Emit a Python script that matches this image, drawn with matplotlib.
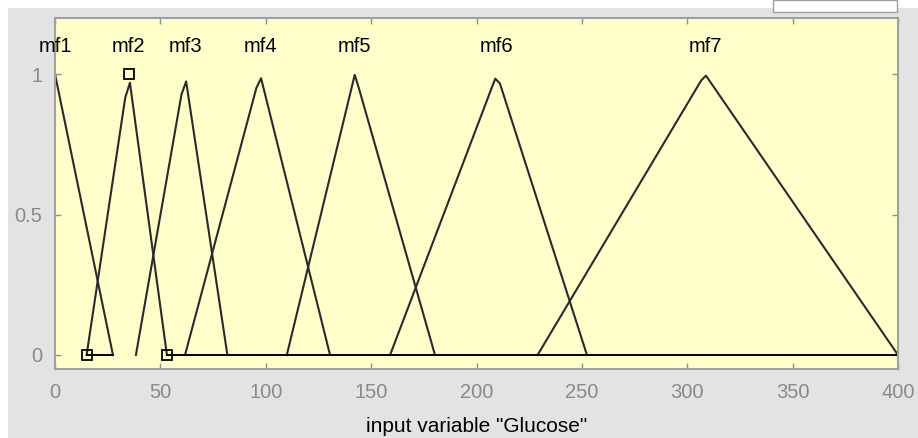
import numpy as np
import matplotlib
matplotlib.use("Agg")
import matplotlib.pyplot as plt
from matplotlib.patches import Rectangle

plt.rcParams['font.family'] = ['Liberation Sans', 'DejaVu Sans']

# membership functions (trimf params a, b, c)
mf_names = ["mf1", "mf2", "mf3", "mf4", "mf5", "mf6", "mf7"]
mf_a = [-28, 15, 38.4, 61.7, 110, 159, 229]
mf_b = [0, 35, 61.7, 97.3, 142.3, 209.7, 308.4]
mf_c = [27.5, 53.1, 81.8, 130.5, 180.3, 252.4, 400]

# baseline pieces at y = 0
base_start = [15, 53.1]
base_end = [27.5, 400]

# selected mf (mf2) handle points
sel_x = [15, 35, 53.1]
sel_y = [0, 1, 0]

xticks = [0, 50, 100, 150, 200, 250, 300, 350, 400]
yticks = [0, 0.5, 1]
ytick_labels = ["0", "0.5", "1"]

xmin, xmax = 0, 400
grid = np.linspace(xmin, xmax, 181)


def trimf(x, a, b, c):
    left = (x - a) / (b - a)
    right = (c - x) / (c - b)
    return np.clip(np.minimum(left, right), 0, 1)


fig = plt.figure(figsize=(9.18, 4.38), dpi=100)
fig.patch.set_facecolor("white")
# gui background
fig.add_artist(Rectangle((8 / 918, 0), 1, 1 - 8 / 438, transform=fig.transFigure,
                         facecolor="#e3e3e3", edgecolor="none", zorder=-10))
fig.add_artist(Rectangle((773 / 918, 1 - 12 / 438), 124 / 918, 12 / 438,
                         transform=fig.transFigure, facecolor="white",
                         edgecolor="#a0a0a0", lw=1, zorder=-9))

ax = fig.add_axes([55 / 918, 69 / 438, 843 / 918, 351 / 438])
ax.set_facecolor("#ffffcc")

for name, a, b, c in zip(mf_names, mf_a, mf_b, mf_c):
    inside = grid[(grid > a) & (grid < c)]
    xs = np.concatenate([[max(a, xmin)], inside, [min(c, xmax)]])
    ys = trimf(xs, a, b, c)
    if a < xmin:
        ys[0] = trimf(np.array([xmin]), a, b, c)[0]
    ax.plot(xs, ys, color="#2a2a2a", lw=1.5)
    ax.text(b, 1.1, name, ha="center", va="center", fontsize=14.5, color="black")

for s, e in zip(base_start, base_end):
    ax.plot([s, e], [0, 0], color="black", lw=1.4)

ax.plot(sel_x, sel_y, linestyle="none", marker="s", markersize=7,
        markerfacecolor="none", markeredgecolor="black", markeredgewidth=1.3)

ax.set_xlim(xmin, xmax)
ax.set_ylim(-0.05, 1.2)
ax.set_xticks(xticks)
ax.set_yticks(yticks)
ax.set_yticklabels(ytick_labels)
ax.tick_params(direction="in", length=4, width=1, color="#909090",
               labelcolor="#8a8a8a", labelsize=14.5, top=True, right=True)
ax.tick_params(axis="x", pad=10)
ax.tick_params(axis="y", pad=9)
for sp in ax.spines.values():
    sp.set_color("#a0a0a0")
    sp.set_linewidth(1.5)

ax.set_xlabel('input variable "Glucose"', fontsize=15, labelpad=11)

fig.savefig("out.png", dpi=100)
